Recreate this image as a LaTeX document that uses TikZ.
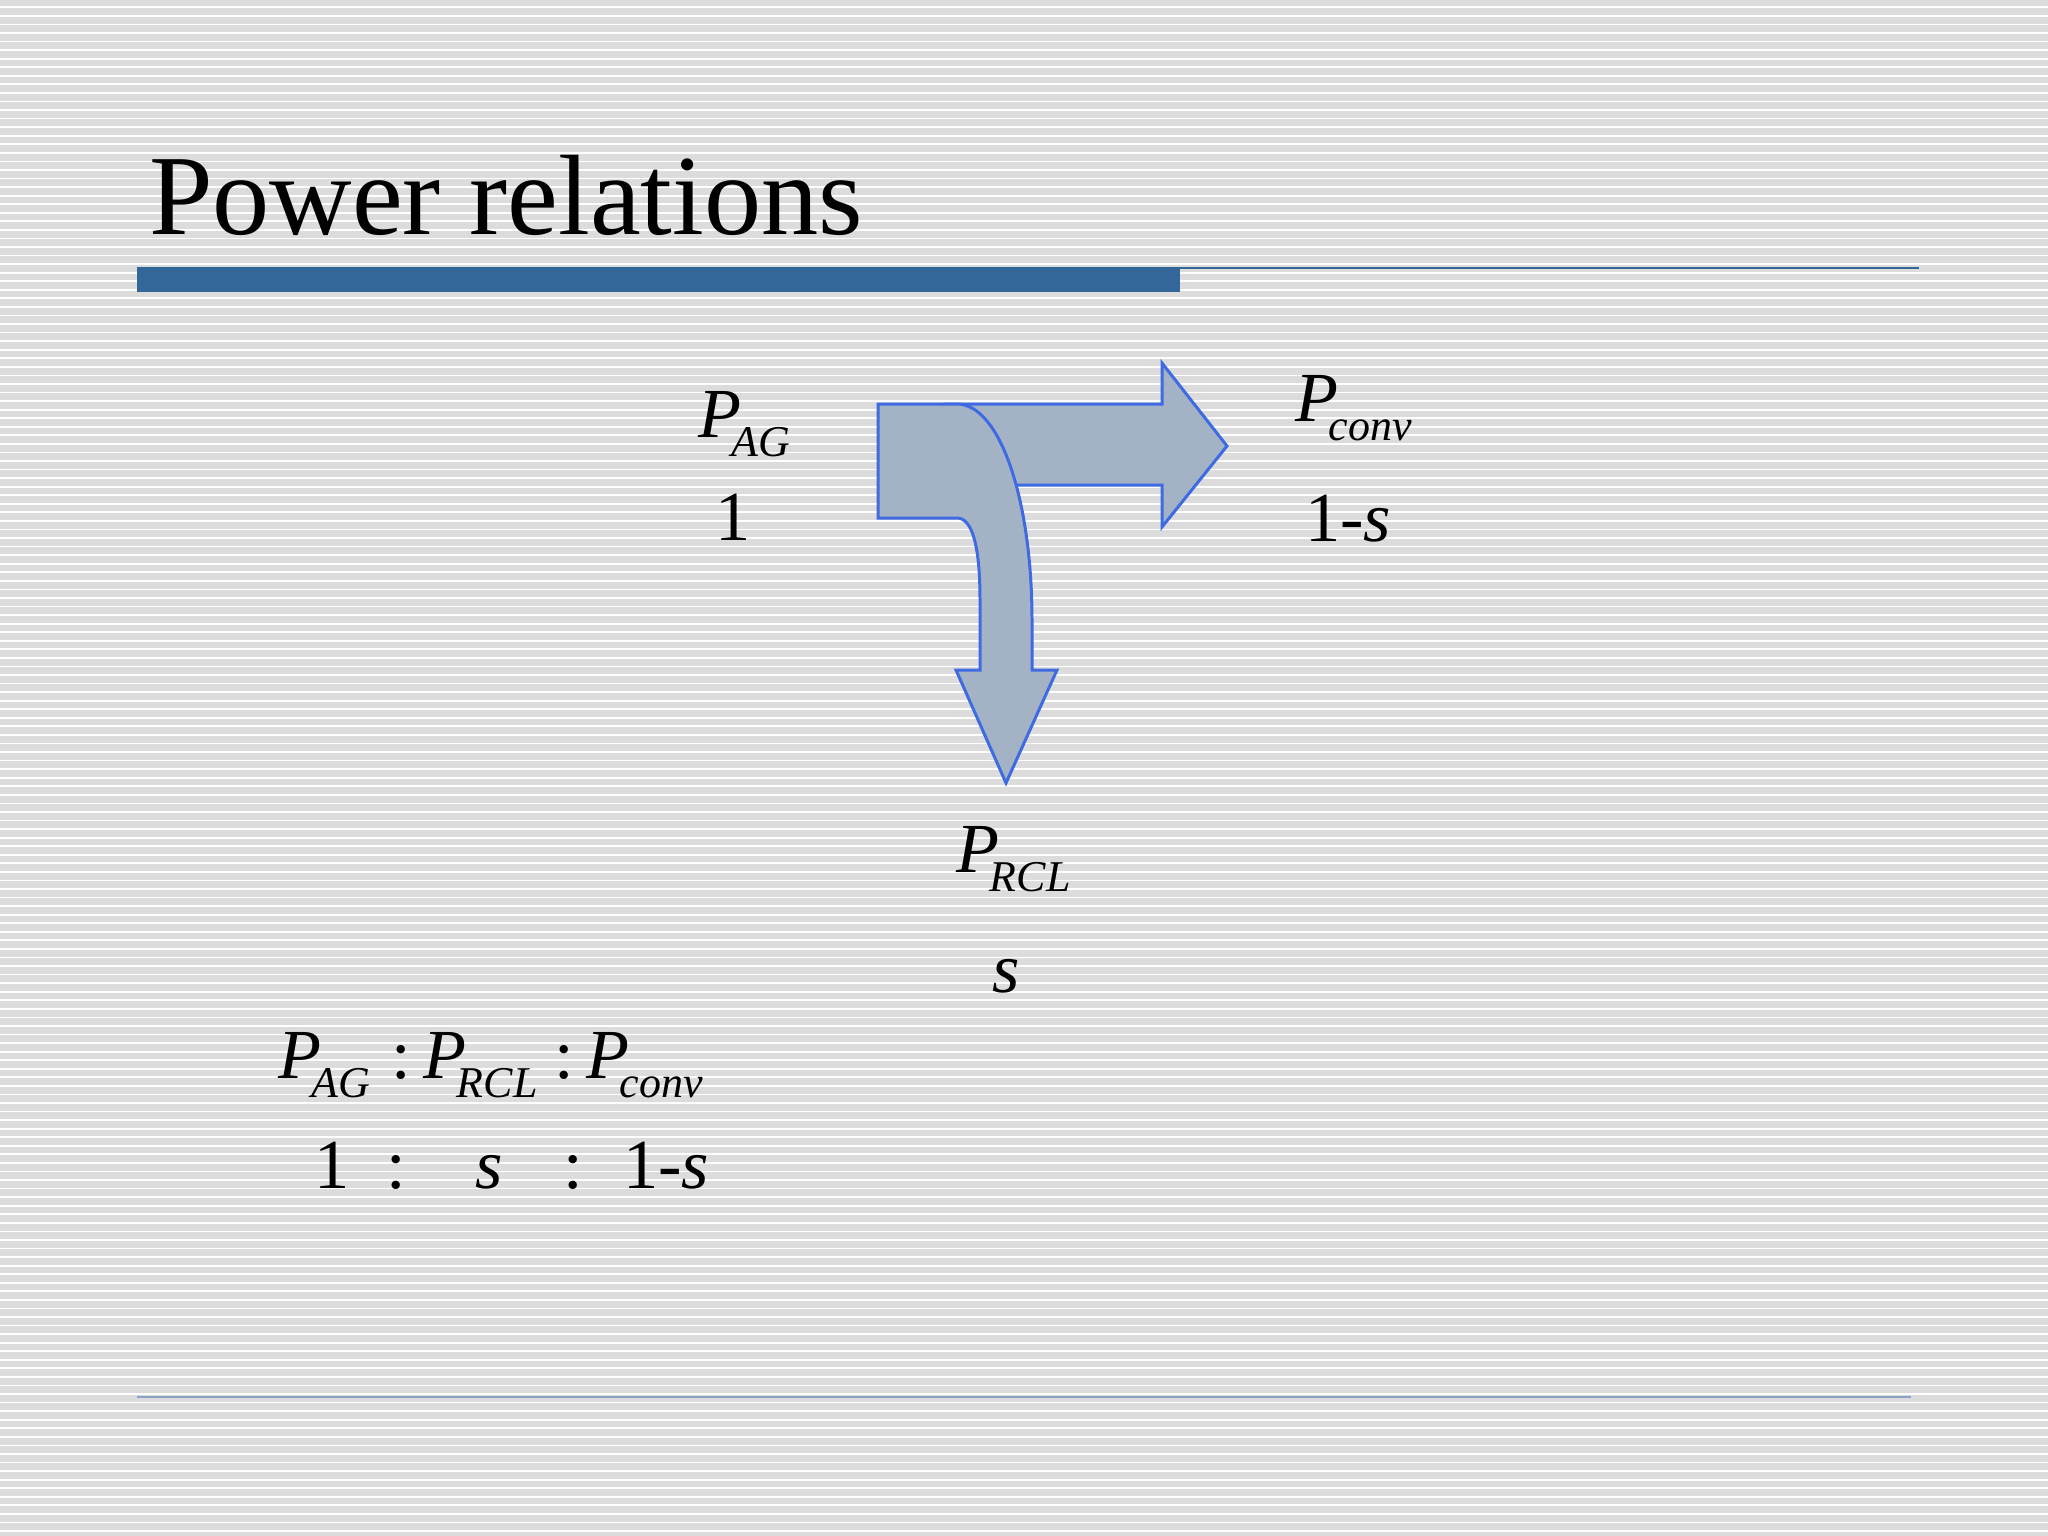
\documentclass[tikz,border=0pt]{standalone}
\usepackage{fontspec}
\setmainfont{Liberation Serif}
\definecolor{bggray}{RGB}{220,220,220}
\definecolor{barblue}{RGB}{51,102,153}
\definecolor{linelight}{RGB}{140,162,196}
\definecolor{arrowfill}{RGB}{164,178,198}
\definecolor{arrowline}{RGB}{62,106,226}
\newcommand{\bigsz}{\fontsize{20pt}{24pt}\selectfont}
\newcommand{\subsz}{\fontsize{12.5pt}{15pt}\selectfont}
\newcommand{\PowSym}[1]{{\bigsz\itshape P}\kern-2.6pt\raisebox{-5.5pt}{\subsz\itshape #1}}
\tikzset{
  lbl/.style={inner sep=0pt, outer sep=0pt, font=\bigsz},
  flowarrow/.style={fill=arrowfill, draw=arrowline, line width=0.85pt, line join=miter},
}
\begin{document}
\begin{tikzpicture}[x=0.01cm, y=-0.01cm]
\useasboundingbox (0,0) rectangle (2048,1536);
% background
\fill[bggray] (0,0) rectangle (2048,1536);
\foreach \i in {0,...,179} {
  \draw[white, line width=0.5pt] (0,{7.3+\i*8.56}) -- (2048,{7.3+\i*8.56});
}
% title and rules
\node[lbl, anchor=base west, font=\fontsize{32.5pt}{38pt}\selectfont] (title) at (149,234) {Power relations};
\fill[barblue] (137,267) rectangle (1180,292);
\draw[barblue, line width=0.6pt] (1180,268) -- (1919,268);
\draw[linelight, line width=0.5pt] (137,1397) -- (1911,1397);
% right arrow (behind)
\draw[flowarrow] (945,404) -- (1162,404) -- (1162,363) -- (1227,446) -- (1162,527) -- (1162,485) -- (960,485) -- cycle;
% bent arrow (front)
\draw[flowarrow] (878,404) -- (957,404) .. controls (1000,404) and (1032,500) .. (1032,620)
  -- (1032,670) -- (1057,670) -- (1006,783) -- (956,670) -- (980,670) -- (980,600)
  .. controls (980,545) and (972,518) .. (957,518) -- (878,518) -- cycle;
% labels around the arrows
\node[lbl, anchor=base west] (pag) at (698,437) {\PowSym{AG}};
\node[lbl, anchor=base] (one) at (733,540) {1};
\node[lbl, anchor=base west] (pconv) at (1295,421) {\PowSym{conv}};
\node[lbl, anchor=base] (oneminus) at (1348,541) {1-\textit{s}};
\node[lbl, anchor=base west] (prcl) at (956,872) {\PowSym{RCL}};
\node[lbl, anchor=base] (sval) at (1006,992) {\textit{s}};
% ratio
\node[lbl, anchor=base west] (rAG) at (278,1078) {\PowSym{AG}};
\node[lbl, anchor=base] (rc1) at (401,1078) {:};
\node[lbl, anchor=base west] (rRCL) at (423,1078) {\PowSym{RCL}};
\node[lbl, anchor=base] (rc2) at (564,1078) {:};
\node[lbl, anchor=base west] (rconv) at (586,1078) {\PowSym{conv}};
\node[lbl, anchor=base] (v1) at (332,1188) {1};
\node[lbl, anchor=base] (vc1) at (396,1188) {:};
\node[lbl, anchor=base] (vs) at (489,1188) {\textit{s}};
\node[lbl, anchor=base] (vc2) at (573,1188) {:};
\node[lbl, anchor=base] (v1s) at (666,1188) {1-\textit{s}};
\end{tikzpicture}
\end{document}
